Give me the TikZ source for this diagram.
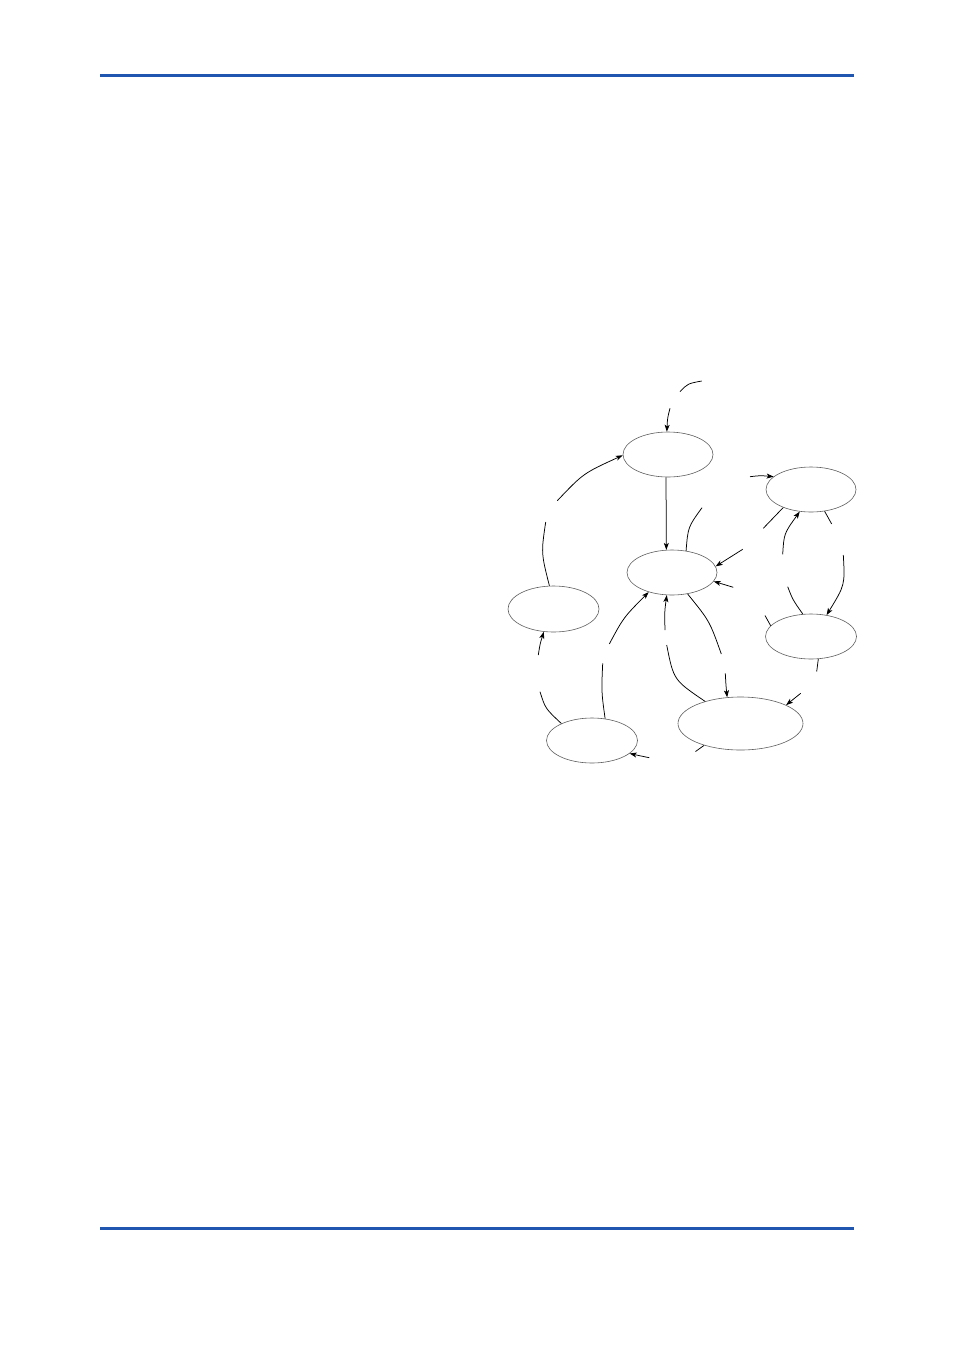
\documentclass[tikz,border=0pt]{standalone}
\usetikzlibrary{arrows.meta,shapes.geometric}
\definecolor{rule}{RGB}{33,86,176}
\definecolor{ellline}{RGB}{95,95,95}
\begin{document}
\begin{tikzpicture}[x=1pt,y=-1pt,
  ell/.style={ellipse, draw=ellline, line width=0.6pt, inner sep=0pt, minimum width=90pt, minimum height=45pt},
  con/.style={line width=0.75pt, black},
  arr/.style={con, -{Stealth[length=7pt,width=5pt,inset=1.8pt]}},
  bar/.style={rule, line width=3pt}
]
\path[use as bounding box, fill=white] (0,0) rectangle (954,1350);
% page rules
\coordinate (h1) at (100,75);
\coordinate (h2) at (854,75);
\coordinate (f1r) at (100,1228);
\coordinate (f2r) at (854,1228);
\draw[bar] (h1) -- (h2);
\draw[bar] (f1r) -- (f2r);

% states
\node[ell] (A) at (668,454.5) {};
\node[ell] (B) at (811,489.5) {};
\node[ell] (C) at (672,572.5) {};
\node[ell, minimum width=91pt, minimum height=46pt] (D) at (553.5,609) {};
\node[ell, minimum width=91pt] (E) at (811,636.5) {};
\node[ell, minimum width=91pt] (F) at (592,740.5) {};
\node[ell, minimum width=125pt, minimum height=53pt] (G) at (740.5,723.5) {};

% free ends
\coordinate (t1) at (680,391.7);
\coordinate (t2) at (701.7,381);
\coordinate (a1) at (670,408.3);
\coordinate (l1) at (557.3,500.7);
\coordinate (l2) at (545.7,522);
\coordinate (c1) at (702,507.7);
\coordinate (b1) at (750,476.7);
\coordinate (b2) at (763.3,528.3);
\coordinate (b3) at (742.7,549.3);
\coordinate (b4) at (733.3,587.3);
\coordinate (e1) at (782.7,554.3);
\coordinate (e2) at (787.7,586.7);
\coordinate (b5) at (831.7,524);
\coordinate (r1) at (843.3,555);
\coordinate (e3) at (765,615.5);
\coordinate (e4) at (816.7,671.5);
\coordinate (g1) at (800.7,693.3);
\coordinate (c2) at (721.3,654);
\coordinate (c3) at (725.3,673.3);
\coordinate (c4) at (666.7,645);
\coordinate (c5) at (665,630);
\coordinate (fa) at (602.7,663.3);
\coordinate (fb) at (609.3,644);
\coordinate (d1) at (540,691.7);
\coordinate (d2) at (538.3,655);
\coordinate (g2) at (695.5,751.5);
\coordinate (g3) at (649.3,757.7);

% connectors
\draw[con] (t1) .. controls (687.7,383.6) .. (t2);
\draw[arr] (a1) .. controls (667.5,418) .. (A.93);
\draw[arr] (A.265) -- (C.104);
\draw[arr] (l1) .. controls (583.3,473.3) .. (A.181);
\draw[con] (D.100) .. controls (541.1,553) .. (l2);
\draw[con] (C.57.5) .. controls (688,527) .. (c1);
\draw[arr] (b1) .. controls (760,475.5) .. (B.161.5);
\draw[con] (B.213) -- (b2);
\draw[arr] (b3) -- (C.8.6);
\draw[arr] (b4) -- (C.348);
\draw[arr] (e1) .. controls (784,533.5) .. (B.243);
\draw[con] (E.110) .. controls (792.7,599.7) .. (e2);
\draw[con] (B.302) -- (b5);
\draw[arr] (r1) .. controls (845,585) .. (E.54);
\draw[con] (E.165) -- (e3);
\draw[con] (E.288) -- (e4);
\draw[arr] (g1) -- (G.22);
\draw[con] (C.306) .. controls (709.6,621) .. (c2);
\draw[arr] (c3) .. controls (726,686) .. (G.117);
\draw[con] (G.148) .. controls (673.6,680) .. (c4);
\draw[arr] (c5) .. controls (664.5,612) .. (C.257);
\draw[con] (F.59) .. controls (601.4,691.8) .. (fa);
\draw[arr] (fb) .. controls (623.5,617.5) .. (C.220);
\draw[con] (F.151) .. controls (545.3,708.5) .. (d1);
\draw[arr] (d2) .. controls (540,644) .. (D.247);
\draw[con] (G.211) -- (g2);
\draw[arr] (g3) .. controls (640,755.8) .. (F.341);
\end{tikzpicture}
\end{document}
